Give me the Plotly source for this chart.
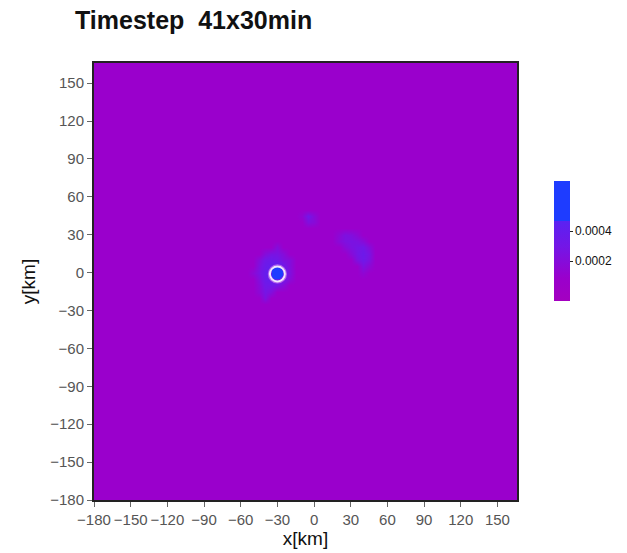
import plotly.graph_objects as go

# grid (km), cell centres every 5 km
x_km = list(range(-180, 170, 5))
y_km = list(range(-180, 170, 5))
background = 0.00008

# anomalies: (x, y, value)
anom_x = [-40, -35, -30, -25, -30,
          -45, -40, -35, -30, -25,
          -45, -40, -35, -30, -25, -20,
          -50, -45, -40, -35, -30, -25, -20,
          -45, -40, -35, -30, -25, -20,
          -45, -40, -35, -30, -25,
          -45, -40, -35, -40, -20,
          -5, -5, 0, 0, -10,
          20, 25, 30, 35,
          20, 25, 30, 35, 40,
          25, 30, 35, 40, 45,
          30, 35, 40, 45,
          35, 40, 45,
          40, 45, 40]
anom_y = [15, 15, 15, 15, 20,
          10, 10, 10, 10, 10,
          5, 5, 5, 5, 5, 5,
          0, 0, 0, 0, 0, 0, 0,
          -5, -5, -5, -5, -5, -5,
          -10, -10, -10, -10, -10,
          -15, -15, -15, -20, 10,
          45, 40, 45, 40, 45,
          30, 30, 30, 30,
          25, 25, 25, 25, 25,
          20, 20, 20, 20, 20,
          15, 15, 15, 15,
          10, 10, 10,
          5, 5, 0]
anom_v = [0.00020, 0.00026, 0.00026, 0.00020, 0.00020,
          0.00020, 0.00032, 0.00034, 0.00032, 0.00024,
          0.00024, 0.00036, 0.00040, 0.00044, 0.00032, 0.00020,
          0.00016, 0.00026, 0.00038, 0.00044, 0.00120, 0.00040, 0.00022,
          0.00022, 0.00036, 0.00040, 0.00044, 0.00032, 0.00018,
          0.00018, 0.00032, 0.00032, 0.00028, 0.00020,
          0.00016, 0.00028, 0.00022, 0.00024, 0.00020,
          0.00030, 0.00022, 0.00018, 0.00018, 0.00013,
          0.00016, 0.00024, 0.00022, 0.00016,
          0.00018, 0.00024, 0.00026, 0.00024, 0.00018,
          0.00018, 0.00024, 0.00028, 0.00030, 0.00020,
          0.00018, 0.00028, 0.00034, 0.00026,
          0.00024, 0.00032, 0.00024,
          0.00024, 0.00016, 0.00014]

ring_x = [-30]
ring_y = [-1]

tick_vals = [-180, -150, -120, -90, -60, -30, 0, 30, 60, 90, 120, 150]
tick_text = ["\u2212180", "\u2212150", "\u2212120", "\u221290", "\u221260", "\u221230",
             "0", "30", "60", "90", "120", "150"]
cb_vals = [0.0002, 0.0004]
cb_text = ["0.0002", "0.0004"]

z = [[background for _ in x_km] for _ in y_km]
for ax_, ay_, av_ in zip(anom_x, anom_y, anom_v):
    z[y_km.index(ay_)][x_km.index(ax_)] = av_

colorscale = [[0.0, "#a400c0"], [0.19, "#9a00cc"], [0.45, "#7416e6"],
              [0.67, "#5a22f2"], [0.67, "#1e3cff"], [1.0, "#1e3cff"]]

FONT = "Liberation Sans, Arial, sans-serif"

fig = go.Figure()
fig.add_trace(go.Heatmap(
    x=x_km, y=y_km, z=z, zsmooth="best",
    colorscale=colorscale, zmin=-0.00007, zmax=0.00073,
    colorbar=dict(
        thickness=16, thicknessmode="pixels",
        len=140, lenmode="pixels",
        x=(544 - 94) / 423, xanchor="left", y=(500 - 241.5) / 437, yanchor="middle",
        tickvals=cb_vals, ticktext=cb_text,
        ticks="outside", ticklen=3, tickcolor="#222",
        tickfont=dict(family=FONT, size=12, color="#111"),
        outlinewidth=0,
    ),
    hoverinfo="skip",
))
fig.add_trace(go.Scatter(
    x=ring_x, y=ring_y, mode="markers",
    marker=dict(symbol="circle-open", size=18, color="rgba(255,170,235,0.5)",
                line=dict(width=1.2)),
    showlegend=False, hoverinfo="skip",
))
fig.add_trace(go.Scatter(
    x=ring_x, y=ring_y, mode="markers",
    marker=dict(symbol="circle-open", size=15, color="rgba(255,245,255,0.92)",
                line=dict(width=2.0)),
    showlegend=False, hoverinfo="skip",
))

axis_common = dict(
    tickmode="array", tickvals=tick_vals, ticktext=tick_text,
    ticks="outside", ticklen=5, tickcolor="#666", tickwidth=1,
    tickfont=dict(family=FONT, size=15, color="#555"),
    showline=True, linecolor="#222", linewidth=2, mirror=True,
    showgrid=False, zeroline=False, tickangle=0, automargin=False,
)

fig.update_layout(
    width=627, height=553,
    margin=dict(l=94, r=110, t=63, b=53, autoexpand=False),
    paper_bgcolor="white", plot_bgcolor="white",
    showlegend=False,
    title=dict(text="Timestep\u00a0\u00a041x30min",
               x=75 / 627, xanchor="left", xref="container",
               y=1 - 20 / 553, yanchor="middle", yref="container",
               font=dict(family=FONT, size=25, color="#111", weight="bold")),
    xaxis=dict(range=[-180, 166], title=dict(text="x[km]", standoff=0,
               font=dict(family=FONT, size=19, color="#111")),
               **axis_common),
    yaxis=dict(range=[-180, 166], title=dict(text="y[km]", standoff=10,
               font=dict(family=FONT, size=19, color="#111")),
               **axis_common),
)

fig.write_html("out.html",
               config={"displayModeBar": False},
               post_script="document.body.style.margin='0px';"
                           "document.body.style.overflow='hidden';")
